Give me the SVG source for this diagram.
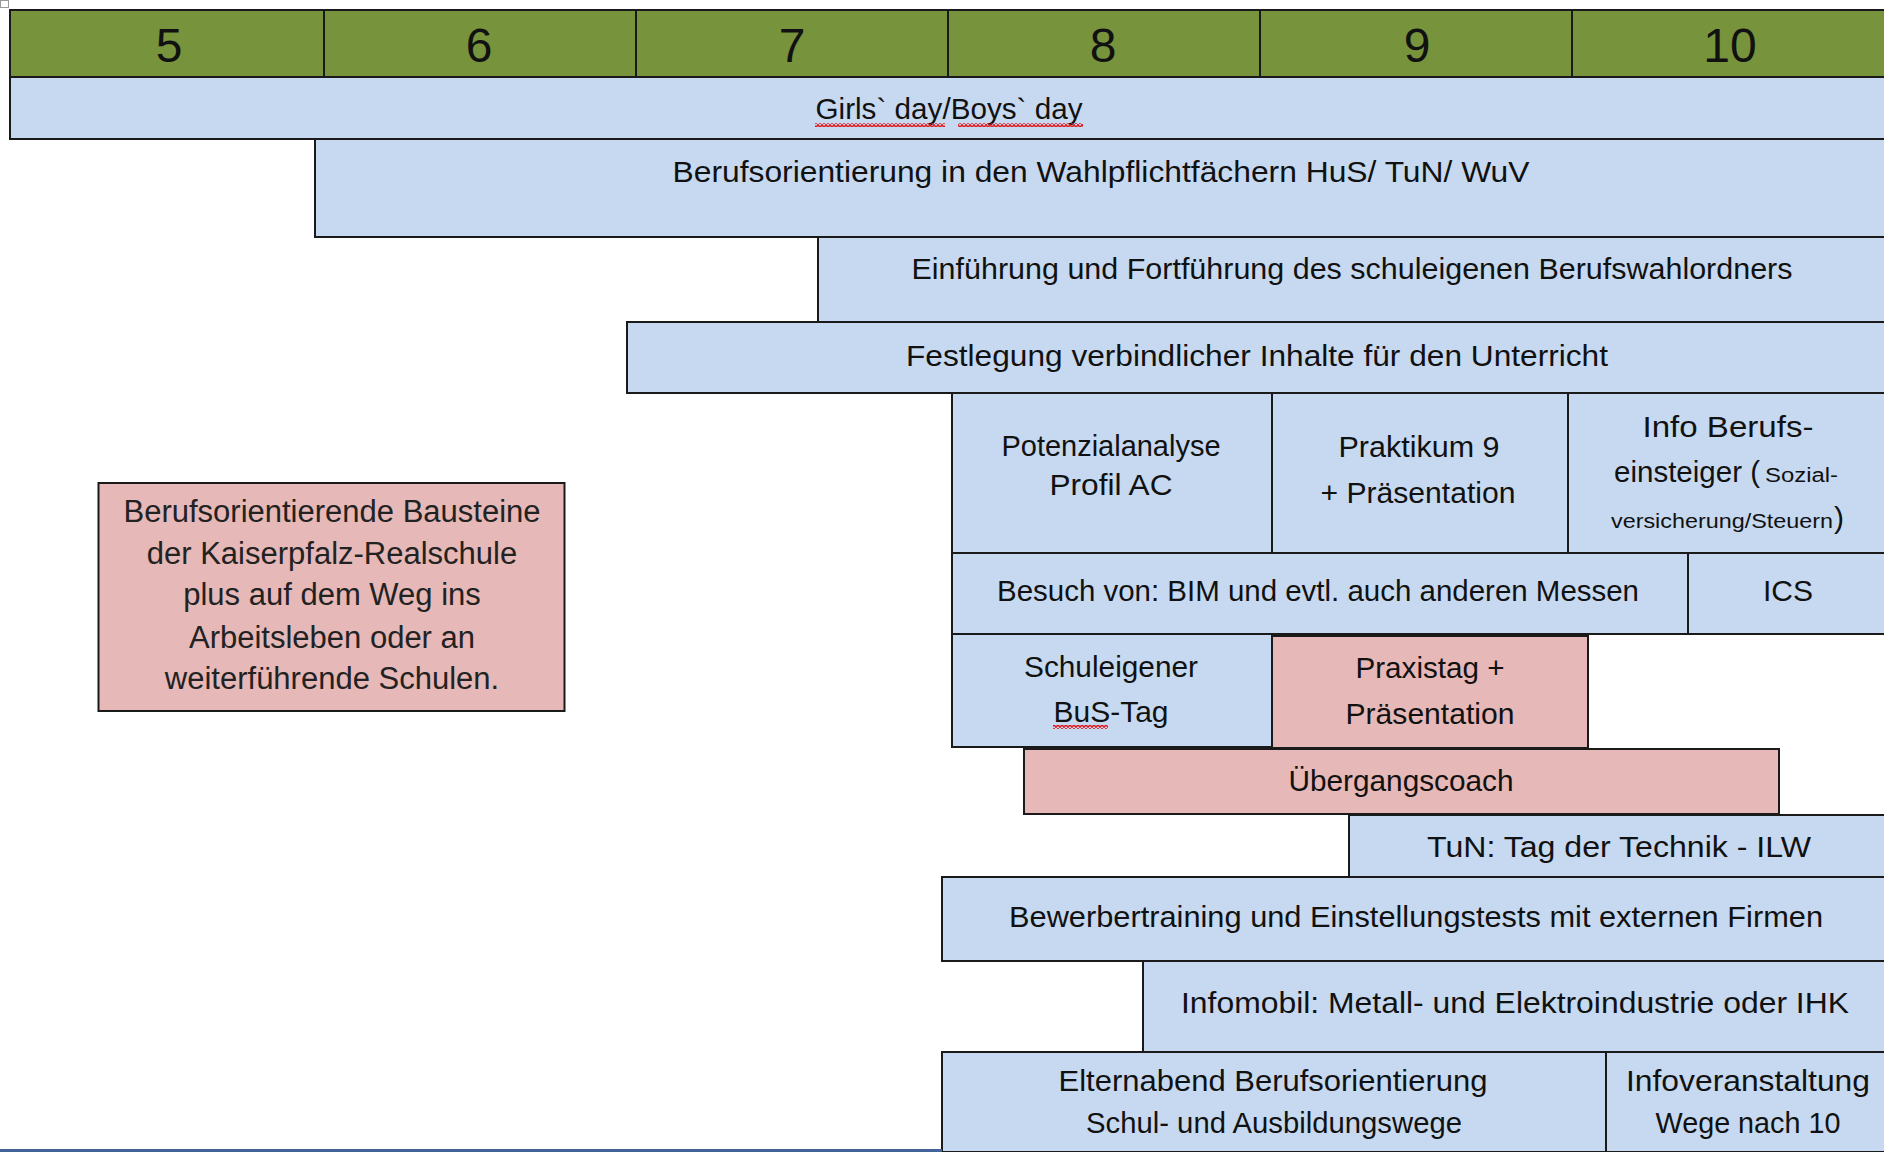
<svg xmlns="http://www.w3.org/2000/svg" width="1884" height="1152" viewBox="0 0 1884 1152">
<style>
.hd{fill:#77933C;stroke:#1a1a1a;stroke-width:2}
.bl{fill:#C6D9F0;stroke:#1a1a1a;stroke-width:2}
.pk{fill:#E6B8B7;stroke:#1a1a1a;stroke-width:2}
.num{font-family:"Liberation Sans",Arial,sans-serif;font-size:48px;fill:#111;text-anchor:middle}
.t{font-family:"Liberation Sans",Arial,sans-serif;font-size:30px;fill:#111;text-anchor:middle}
.s{font-family:"Liberation Sans",Arial,sans-serif;font-size:20px;fill:#111}
.a{font-family:"Liberation Sans",Arial,sans-serif;font-size:31px;fill:#222;text-anchor:middle}
</style>
<defs>
<pattern id="wave" width="4" height="4" patternUnits="userSpaceOnUse">
<path d="M0,3.5 L2,0.5 L4,3.5" fill="none" stroke="#e3161a" stroke-width="1.4"/>
</pattern>
</defs>
<rect width="1884" height="1152" fill="#ffffff"/>
<rect x="0.5" y="0.5" width="8" height="7" fill="#fff" stroke="#999" stroke-width="1"/>

<g id="header">
<rect class="hd" x="10" y="10" width="314" height="67"/>
<rect class="hd" x="324" y="10" width="312" height="67"/>
<rect class="hd" x="636" y="10" width="312" height="67"/>
<rect class="hd" x="948" y="10" width="312" height="67"/>
<rect class="hd" x="1260" y="10" width="312" height="67"/>
<rect class="hd" x="1572" y="10" width="314" height="67"/>
<text class="num" x="169" y="62">5</text>
<text class="num" x="479" y="62">6</text>
<text class="num" x="792" y="62">7</text>
<text class="num" x="1103" y="62">8</text>
<text class="num" x="1417" y="62">9</text>
<text class="num" x="1730" y="62">10</text>
</g>

<g id="girls-boys-day">
<rect class="bl" x="10" y="77" width="1876" height="62"/>
<text class="t" x="949" y="119" textLength="267" lengthAdjust="spacingAndGlyphs">Girls` day/Boys` day</text>
<rect x="815" y="123" width="130" height="4" fill="url(#wave)"/>
<rect x="958" y="123" width="125" height="4" fill="url(#wave)"/>
</g>

<g id="wahlpflicht">
<rect class="bl" x="315" y="139" width="1571" height="98"/>
<text class="t" x="1101" y="182" textLength="857" lengthAdjust="spacingAndGlyphs">Berufsorientierung in den Wahlpflichtfächern HuS/ TuN/ WuV</text>
</g>

<g id="berufswahlordner">
<rect class="bl" x="818" y="237" width="1068" height="85"/>
<text class="t" x="1352" y="279" textLength="881" lengthAdjust="spacingAndGlyphs">Einführung und Fortführung des schuleigenen Berufswahlordners</text>
</g>

<g id="festlegung">
<rect class="bl" x="627" y="322" width="1259" height="71"/>
<text class="t" x="1257" y="366" textLength="702" lengthAdjust="spacingAndGlyphs">Festlegung verbindlicher Inhalte für den Unterricht</text>
</g>

<g id="potenzialanalyse">
<rect class="bl" x="952" y="393" width="320" height="160"/>
<text class="t" x="1111" y="456" textLength="219" lengthAdjust="spacingAndGlyphs">Potenzialanalyse</text>
<text class="t" x="1111" y="495" textLength="123" lengthAdjust="spacingAndGlyphs">Profil AC</text>
</g>

<g id="praktikum">
<rect class="bl" x="1272" y="393" width="296" height="160"/>
<text class="t" x="1419" y="457" textLength="161" lengthAdjust="spacingAndGlyphs">Praktikum 9</text>
<text class="t" x="1418" y="503" textLength="195" lengthAdjust="spacingAndGlyphs">+ Präsentation</text>
</g>

<g id="info-berufseinsteiger">
<rect class="bl" x="1568" y="393" width="318" height="160"/>
<text class="t" x="1728" y="437" textLength="171" lengthAdjust="spacingAndGlyphs">Info Berufs-</text>
<text class="t" style="text-anchor:start" x="1614" y="482"><tspan textLength="146" lengthAdjust="spacingAndGlyphs">einsteiger (</tspan><tspan class="s" x="1765" textLength="73" lengthAdjust="spacingAndGlyphs">Sozial-</tspan></text>
<text class="s" x="1611" y="528"><tspan textLength="222" lengthAdjust="spacingAndGlyphs">versicherung/Steuern</tspan><tspan x="1834" style="font-size:30px">)</tspan></text>
</g>

<g id="messen">
<rect class="bl" x="952" y="553" width="736" height="81"/>
<text class="t" x="1318" y="601" textLength="642" lengthAdjust="spacingAndGlyphs">Besuch von: BIM und evtl. auch anderen Messen</text>
</g>

<g id="ics">
<rect class="bl" x="1688" y="553" width="198" height="81"/>
<text class="t" x="1788" y="601">ICS</text>
</g>

<g id="bus-tag">
<rect class="bl" x="952" y="634" width="320" height="113"/>
<text class="t" x="1111" y="677" textLength="174" lengthAdjust="spacingAndGlyphs">Schuleigener</text>
<text class="t" x="1111" y="722" textLength="115" lengthAdjust="spacingAndGlyphs">BuS-Tag</text>
<rect x="1053" y="725" width="55" height="4" fill="url(#wave)"/>
</g>

<g id="praxistag">
<rect class="pk" x="1272" y="636" width="316" height="112"/>
<text class="t" x="1430" y="678" textLength="149" lengthAdjust="spacingAndGlyphs">Praxistag +</text>
<text class="t" x="1430" y="724" textLength="169" lengthAdjust="spacingAndGlyphs">Präsentation</text>
</g>

<g id="uebergangscoach">
<rect class="pk" x="1024" y="749" width="755" height="65"/>
<text class="t" x="1401" y="791" textLength="225" lengthAdjust="spacingAndGlyphs">Übergangscoach</text>
</g>

<g id="tag-der-technik">
<rect class="bl" x="1349" y="815" width="537" height="62"/>
<text class="t" x="1619" y="857" textLength="384" lengthAdjust="spacingAndGlyphs">TuN: Tag der Technik - ILW</text>
</g>

<g id="bewerbertraining">
<rect class="bl" x="942" y="877" width="944" height="84"/>
<text class="t" x="1416" y="927" textLength="814" lengthAdjust="spacingAndGlyphs">Bewerbertraining und Einstellungstests mit externen Firmen</text>
</g>

<g id="infomobil">
<rect class="bl" x="1143" y="961" width="743" height="91"/>
<text class="t" x="1515" y="1013" textLength="668" lengthAdjust="spacingAndGlyphs">Infomobil: Metall- und Elektroindustrie oder IHK</text>
</g>

<g id="elternabend">
<rect class="bl" x="942" y="1052" width="664" height="100"/>
<text class="t" x="1273" y="1091" textLength="429" lengthAdjust="spacingAndGlyphs">Elternabend Berufsorientierung</text>
<text class="t" x="1274" y="1133" textLength="376" lengthAdjust="spacingAndGlyphs">Schul- und Ausbildungswege</text>
</g>

<g id="infoveranstaltung">
<rect class="bl" x="1606" y="1052" width="280" height="100"/>
<text class="t" x="1748" y="1091" textLength="244" lengthAdjust="spacingAndGlyphs">Infoveranstaltung</text>
<text class="t" x="1748" y="1133" textLength="185" lengthAdjust="spacingAndGlyphs">Wege nach 10</text>
</g>

<g id="legend">
<rect class="pk" x="98.5" y="483" width="466" height="228"/>
<text class="a" x="332" y="522">Berufsorientierende Bausteine</text>
<text class="a" x="332" y="564">der Kaiserpfalz-Realschule</text>
<text class="a" x="332" y="605">plus auf dem Weg ins</text>
<text class="a" x="332" y="648">Arbeitsleben oder an</text>
<text class="a" x="332" y="689">weiterführende Schulen.</text>
</g>

<g id="connectors"></g>

<line x1="0" y1="1150.5" x2="942" y2="1150.5" stroke="#41659a" stroke-width="3"/>
</svg>
